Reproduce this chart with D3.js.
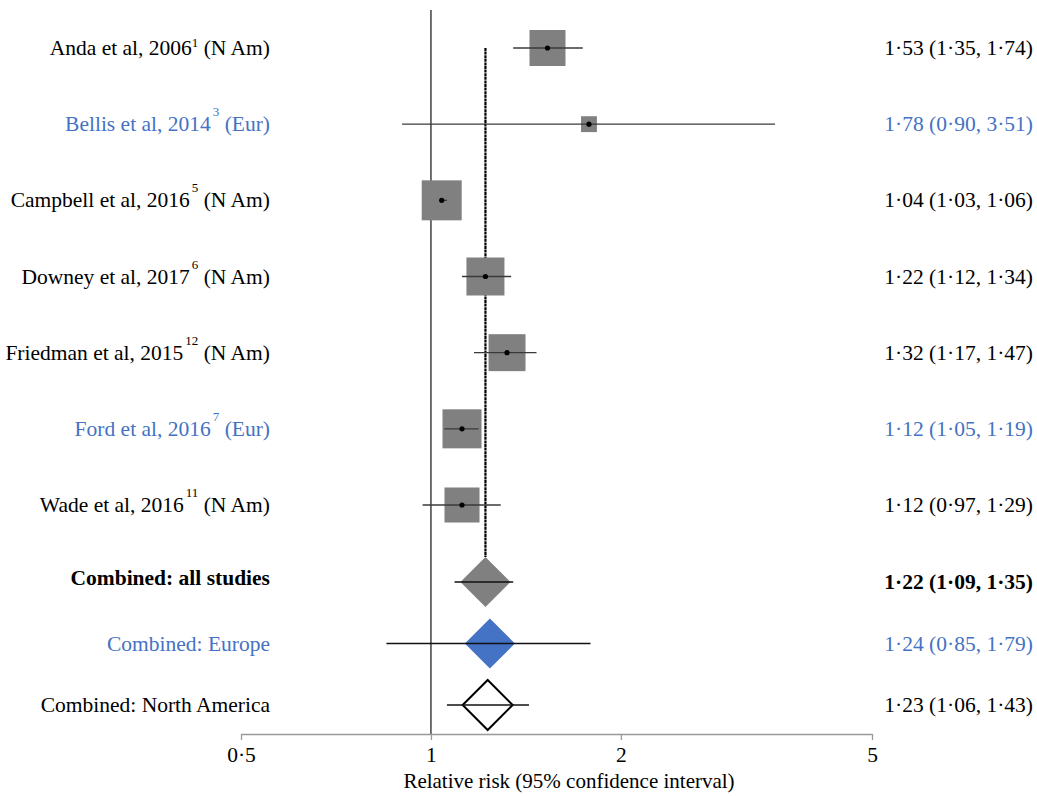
<!DOCTYPE html>
<html>
<head>
<meta charset="utf-8">
<script src="https://cdn.jsdelivr.net/npm/d3@7"></script>
<style>
  html, body { margin: 0; padding: 0; background: #fff; }
  svg { display: block; }
  svg text { font-family: "Liberation Serif", "Times New Roman", "DejaVu Serif", serif; }
</style>
</head>
<body>
<svg id="chart" width="1037" height="796" font-family="Liberation Serif, Times New Roman, serif"></svg>
<script>
// Individual studies
const studyNames  = ["Anda et al, 2006", "Bellis et al, 2014", "Campbell et al, 2016", "Downey et al, 2017",
                     "Friedman et al, 2015", "Ford et al, 2016", "Wade et al, 2016"];
const studyRefs   = ["1", "3", "5", "6", "12", "7", "11"];
const studyRegion = ["N Am", "Eur", "N Am", "N Am", "N Am", "Eur", "N Am"];
const studyRR     = [1.53, 1.78, 1.04, 1.22, 1.32, 1.12, 1.12];
const studyLow    = [1.35, 0.90, 1.03, 1.12, 1.17, 1.05, 0.97];
const studyHigh   = [1.74, 3.51, 1.06, 1.34, 1.47, 1.19, 1.29];
const studyWeight = [14.9, 2.9, 18.4, 16.6, 15.7, 17.5, 14.1];

// Pooled estimates
const poolNames  = ["Combined: all studies", "Combined: Europe", "Combined: North America"];
const poolGroup  = ["all", "Eur", "N Am"];
const poolRR     = [1.22, 1.24, 1.23];
const poolLow    = [1.09, 0.85, 1.06];
const poolHigh   = [1.35, 1.79, 1.43];

const axisTicks = [0.5, 1, 2, 5];
const axisTitle = "Relative risk (95% confidence interval)";

const BLUE = "#4472C4", GREY = "#808080";
const FONT = 21.5;
const SERIF = "Liberation Serif, Times New Roman, serif";

const svg = d3.select("#chart");

const x = d3.scaleLog().domain([0.5, 5]).range([241, 872]);
const yStudy = d3.scalePoint().domain(studyNames).range([48, 505]);
const yPool = d3.scalePoint().domain(poolNames).range([582, 705]);
const size = d3.scaleSqrt().domain([0, d3.max(studyWeight)]).range([0, 40]);
const axisY = 734;

const fmt = v => d3.format(".2f")(v).replace(".", "·");
const ciText = (m, l, h) => `${fmt(m)} (${fmt(l)}, ${fmt(h)})`;

const studies = studyNames.map((n, i) => ({
  name: n, ref: studyRefs[i], region: studyRegion[i],
  rr: studyRR[i], lo: studyLow[i], hi: studyHigh[i], w: studyWeight[i],
  y: yStudy(n), color: studyRegion[i] === "Eur" ? BLUE : "#000"
}));
const pools = poolNames.map((n, i) => ({
  name: n, group: poolGroup[i], rr: poolRR[i], lo: poolLow[i], hi: poolHigh[i],
  y: yPool(n)
}));

// Line of no effect
svg.append("line")
  .attr("x1", x(1)).attr("x2", x(1))
  .attr("y1", 10).attr("y2", axisY)
  .attr("stroke", "#333").attr("stroke-width", 1.4);

// Overall pooled estimate reference line
svg.append("line")
  .attr("x1", x(poolRR[0])).attr("x2", x(poolRR[0]))
  .attr("y1", studies[0].y).attr("y2", pools[0].y - 25)
  .attr("stroke", "#000").attr("stroke-width", 2.2)
  .attr("stroke-dasharray", "3,0.6");

// Study boxes, CIs and point estimates
const g = svg.append("g");
g.selectAll("rect.box").data(studies).join("rect")
  .attr("class", "box")
  .attr("x", d => x(d.rr) - size(d.w) / 2)
  .attr("y", d => d.y - size(d.w) / 2)
  .attr("width", d => size(d.w))
  .attr("height", d => size(d.w))
  .attr("fill", GREY);
g.selectAll("line.ci").data(studies).join("line")
  .attr("class", "ci")
  .attr("x1", d => x(d.lo)).attr("x2", d => x(d.hi))
  .attr("y1", d => d.y).attr("y2", d => d.y)
  .attr("stroke", "#3a3a3a").attr("stroke-width", 1.3);
g.selectAll("circle.pt").data(studies).join("circle")
  .attr("class", "pt")
  .attr("cx", d => x(d.rr)).attr("cy", d => d.y)
  .attr("r", 2.6).attr("fill", "#000");

// Pooled diamonds
const half = 25;
const diamond = d => {
  const cx = x(d.rr), cy = d.y;
  return `M${cx - half},${cy}L${cx},${cy - half}L${cx + half},${cy}L${cx},${cy + half}Z`;
};
svg.selectAll("path.diamond").data(pools).join("path")
  .attr("class", "diamond")
  .attr("d", diamond)
  .attr("fill", d => d.group === "all" ? GREY : d.group === "Eur" ? BLUE : "#fff")
  .attr("stroke", d => d.group === "N Am" ? "#000" : "none")
  .attr("stroke-width", 2);
svg.selectAll("line.pci").data(pools).join("line")
  .attr("class", "pci")
  .attr("x1", d => x(d.lo)).attr("x2", d => x(d.hi))
  .attr("y1", d => d.y).attr("y2", d => d.y)
  .attr("stroke", "#111").attr("stroke-width", 1.3);

// Left labels
const leftX = 270;
const lab = svg.selectAll("text.study").data(studies).join("text")
  .attr("class", "study")
  .attr("x", leftX).attr("y", d => d.y + 7)
  .attr("text-anchor", "end")
  .attr("font-family", SERIF)
  .attr("font-size", FONT)
  .attr("fill", d => d.color);
lab.append("tspan").text(d => d.name);
lab.append("tspan")
  .attr("font-size", 13)
  .attr("dy", d => d.ref === "1" ? -8 : -15)
  .attr("dx", d => d.ref === "1" ? 0 : 2)
  .text(d => d.ref);
lab.append("tspan")
  .attr("dy", d => d.ref === "1" ? 8 : 15)
  .text(d => ` (${d.region})`);

svg.selectAll("text.pool").data(pools).join("text")
  .attr("class", "pool")
  .attr("x", leftX).attr("y", (d, i) => d.y + (i === 0 ? 3 : 7))
  .attr("text-anchor", "end")
  .attr("font-family", SERIF)
  .attr("font-size", FONT)
  .attr("font-weight", d => d.group === "all" ? "bold" : "normal")
  .attr("fill", d => d.group === "Eur" ? BLUE : "#000")
  .text(d => d.name);

// Right-hand estimates
const rightX = 1033;
svg.selectAll("text.est").data(studies).join("text")
  .attr("class", "est")
  .attr("x", rightX).attr("y", d => d.y + 7)
  .attr("text-anchor", "end")
  .attr("font-family", SERIF)
  .attr("font-size", FONT)
  .attr("fill", d => d.color)
  .text(d => ciText(d.rr, d.lo, d.hi));
svg.selectAll("text.pest").data(pools).join("text")
  .attr("class", "pest")
  .attr("x", rightX).attr("y", d => d.y + 7)
  .attr("text-anchor", "end")
  .attr("font-family", SERIF)
  .attr("font-size", FONT)
  .attr("font-weight", d => d.group === "all" ? "bold" : "normal")
  .attr("fill", d => d.group === "Eur" ? BLUE : "#000")
  .text(d => ciText(d.rr, d.lo, d.hi));

// X axis
const axis = d3.axisBottom(x)
  .tickValues(axisTicks)
  .tickFormat(v => String(v).replace(".", "·"))
  .tickSize(6).tickSizeOuter(0).tickPadding(7);
const ax = svg.append("g").attr("transform", `translate(0,${axisY})`).call(axis)
  .attr("font-family", SERIF);
ax.select(".domain").attr("stroke", "#999").attr("stroke-width", 1.3);
ax.selectAll(".tick line").attr("stroke", "#999").attr("stroke-width", 1.3);
ax.selectAll(".tick text")
  .attr("fill", "#000")
  .attr("font-family", SERIF)
  .attr("font-size", FONT);

svg.append("text")
  .attr("x", 569).attr("y", 788)
  .attr("text-anchor", "middle")
  .attr("font-family", SERIF)
  .attr("font-size", 21)
  .text(axisTitle);
</script>
</body>
</html>
